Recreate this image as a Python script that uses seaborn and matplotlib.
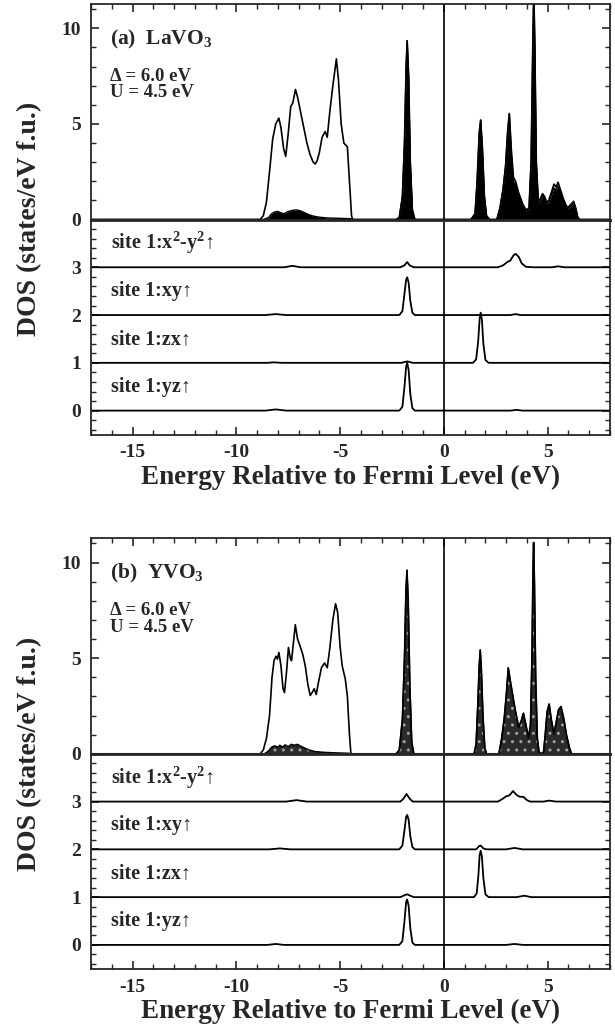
import numpy as np
import pandas as pd
import matplotlib
matplotlib.use("Agg")
import matplotlib.pyplot as plt
import seaborn as sns
from matplotlib.ticker import MultipleLocator, FixedLocator

# ---------------- data (energy eV, DOS) ----------------
LA_TOTAL = [(-17, 0), (-8.85, 0), (-8.7, 0.2), (-8.55, 0.9), (-8.4, 2.5), (-8.25, 4.2), (-8.1, 5.0),
            (-7.95, 5.3), (-7.85, 4.8), (-7.72, 3.7), (-7.62, 3.3), (-7.5, 4.5), (-7.38, 5.9),
            (-7.28, 6.1), (-7.15, 6.8), (-7.05, 6.4), (-6.9, 5.6), (-6.75, 4.8), (-6.6, 4.0),
            (-6.45, 3.4), (-6.3, 3.0), (-6.2, 2.9), (-6.1, 3.1), (-6.0, 3.5), (-5.87, 4.3),
            (-5.72, 4.6), (-5.62, 4.3), (-5.5, 5.6), (-5.35, 7.0), (-5.18, 8.4), (-5.08, 7.3),
            (-4.95, 5.0), (-4.82, 4.0), (-4.65, 3.8), (-4.55, 2.0), (-4.45, 0.2), (-4.4, 0),
            (-2.3, 0), (-2.15, 0.1), (-2.0, 1.2), (-1.9, 4.0), (-1.82, 8.0), (-1.77, 9.35),
            (-1.7, 7.5), (-1.62, 3.0), (-1.52, 0.5), (-1.4, 0),
            (1.3, 0), (1.5, 0.3), (1.6, 2.0), (1.7, 4.5), (1.77, 5.2), (1.85, 3.8), (1.95, 1.2),
            (2.05, 0.2), (2.2, 0),
            (2.55, 0), (2.7, 0.6), (2.85, 1.6), (2.97, 2.8), (3.07, 4.6), (3.15, 5.55), (3.25, 3.6),
            (3.35, 2.2), (3.45, 2.0), (3.6, 1.4), (3.8, 0.8), (3.95, 0.5), (4.1, 0.6), (4.2, 3.0),
            (4.28, 9.0), (4.33, 12.0), (4.38, 9.0), (4.45, 3.0), (4.55, 0.9), (4.65, 1.1),
            (4.75, 1.35), (4.85, 1.2), (4.95, 0.9), (5.05, 1.0), (5.2, 1.5), (5.3, 1.85),
            (5.4, 1.7), (5.5, 1.95), (5.6, 1.6), (5.75, 1.1), (5.9, 0.7), (6.0, 0.65),
            (6.12, 0.8), (6.25, 0.95), (6.35, 0.6), (6.45, 0.1), (6.55, 0), (8, 0)]

LA_PARTIAL = [(-17, 0), (-8.7, 0), (-8.45, 0.1), (-8.3, 0.3), (-8.15, 0.4), (-8.0, 0.42),
              (-7.85, 0.35), (-7.7, 0.3), (-7.55, 0.4), (-7.3, 0.48), (-7.1, 0.5), (-6.9, 0.45),
              (-6.7, 0.35), (-6.5, 0.25), (-6.3, 0.18), (-6.0, 0.12), (-5.6, 0.08), (-5.0, 0.06),
              (-4.5, 0.04), (-4.4, 0),
              (-2.3, 0), (-2.15, 0.1), (-2.0, 1.2), (-1.9, 4.0), (-1.82, 8.0), (-1.77, 9.35),
              (-1.7, 7.5), (-1.62, 3.0), (-1.52, 0.5), (-1.4, 0),
              (1.3, 0), (1.5, 0.3), (1.6, 2.0), (1.7, 4.5), (1.77, 5.2), (1.85, 3.8), (1.95, 1.2),
              (2.05, 0.2), (2.2, 0),
              (2.55, 0), (2.7, 0.6), (2.85, 1.6), (2.97, 2.8), (3.07, 4.6), (3.15, 5.5), (3.25, 3.4),
              (3.35, 2.0), (3.45, 1.8), (3.6, 1.3), (3.8, 0.75), (3.95, 0.45), (4.1, 0.55), (4.2, 3.0),
              (4.28, 9.0), (4.33, 12.0), (4.38, 9.0), (4.45, 3.0), (4.55, 0.85), (4.65, 1.0),
              (4.75, 1.25), (4.85, 1.1), (4.95, 0.85), (5.05, 0.9), (5.2, 1.35), (5.3, 1.65),
              (5.4, 1.55), (5.5, 1.75), (5.6, 1.45), (5.75, 1.0), (5.9, 0.65), (6.0, 0.6),
              (6.12, 0.7), (6.25, 0.85), (6.35, 0.55), (6.45, 0.1), (6.55, 0), (8, 0)]

LA_X2Y2 = [(-17, 0), (-7.7, 0), (-7.3, 0.03), (-6.9, 0), (-2.1, 0), (-1.9, 0.04), (-1.77, 0.11),
           (-1.65, 0.04), (-1.45, 0), (2.6, 0), (2.85, 0.04), (3.05, 0.11), (3.2, 0.14), (3.35, 0.25),
           (3.46, 0.28), (3.6, 0.22), (3.75, 0.08), (3.95, 0.01), (4.3, 0), (5.2, 0), (5.5, 0.02),
           (5.8, 0), (8, 0)]
LA_XY = [(-17, 0), (-8.6, 0), (-8.1, 0.02), (-7.6, 0), (-2.15, 0), (-2.0, 0.08), (-1.9, 0.45),
         (-1.82, 0.74), (-1.77, 0.79), (-1.7, 0.68), (-1.62, 0.3), (-1.52, 0.05), (-1.4, 0),
         (3.2, 0), (3.45, 0.02), (3.7, 0), (8, 0)]
LA_ZX = [(-17, 0), (-8.5, 0), (-8.2, 0.01), (-7.8, 0), (-2.05, 0), (-1.77, 0.03), (-1.5, 0),
         (1.4, 0), (1.55, 0.07), (1.65, 0.45), (1.72, 0.92), (1.77, 1.05), (1.83, 0.9), (1.9, 0.4),
         (2.0, 0.06), (2.15, 0), (8, 0)]
LA_YZ = [(-17, 0), (-8.6, 0), (-8.1, 0.025), (-7.6, 0), (-2.15, 0), (-2.0, 0.08), (-1.9, 0.5),
         (-1.82, 0.92), (-1.77, 1.0), (-1.7, 0.85), (-1.62, 0.35), (-1.52, 0.05), (-1.4, 0),
         (3.2, 0), (3.5, 0.015), (3.8, 0), (8, 0)]

Y_TOTAL = [(-17, 0), (-8.85, 0), (-8.7, 0.2), (-8.55, 0.8), (-8.4, 2.0), (-8.28, 4.0), (-8.18, 4.9),
           (-8.08, 5.1), (-8.02, 4.95), (-7.95, 5.3), (-7.85, 4.6), (-7.75, 3.4), (-7.68, 3.2),
           (-7.58, 4.3), (-7.49, 5.56), (-7.4, 5.0), (-7.34, 4.87), (-7.25, 5.8), (-7.16, 6.75),
           (-7.05, 6.0), (-6.95, 5.7), (-6.8, 5.2), (-6.68, 4.6), (-6.55, 3.6), (-6.44, 3.05),
           (-6.35, 3.2), (-6.25, 3.4), (-6.15, 3.1), (-6.05, 3.7), (-5.9, 4.5), (-5.75, 4.75),
           (-5.62, 4.5), (-5.5, 5.5), (-5.35, 7.0), (-5.22, 7.85), (-5.12, 7.4), (-5.0, 5.6),
           (-4.9, 4.6), (-4.75, 3.9), (-4.65, 3.0), (-4.55, 1.0), (-4.48, 0),
           (-2.3, 0), (-2.15, 0.2), (-2.0, 1.8), (-1.9, 5.0), (-1.83, 8.5), (-1.78, 9.6),
           (-1.72, 8.0), (-1.64, 3.5), (-1.55, 0.6), (-1.45, 0),
           (1.45, 0), (1.55, 0.5), (1.63, 2.5), (1.7, 4.6), (1.75, 5.43), (1.8, 4.5), (1.88, 2.0),
           (1.97, 0.3), (2.05, 0),
           (2.65, 0), (2.78, 0.8), (2.9, 1.8), (3.0, 3.0), (3.1, 4.5), (3.2, 3.8), (3.3, 3.15),
           (3.45, 2.2), (3.6, 1.4), (3.72, 1.7), (3.83, 2.12), (3.95, 1.5), (4.07, 0.85),
           (4.17, 1.5), (4.24, 5.0), (4.29, 9.5), (4.32, 11.05), (4.36, 9.0), (4.42, 4.0),
           (4.5, 0.8), (4.58, 0.1), (4.7, 0), (4.8, 0.1), (4.88, 1.0), (4.97, 2.2), (5.07, 2.6),
           (5.17, 1.8), (5.3, 1.05), (5.4, 1.6), (5.52, 2.3), (5.64, 2.47), (5.78, 1.8),
           (5.9, 1.0), (6.05, 0.3), (6.15, 0), (8, 0)]

Y_PARTIAL = [(-17, 0), (-8.65, 0), (-8.45, 0.15), (-8.3, 0.35), (-8.15, 0.42), (-8.0, 0.35),
             (-7.9, 0.45), (-7.78, 0.35), (-7.65, 0.47), (-7.5, 0.38), (-7.35, 0.5), (-7.2, 0.45),
             (-7.05, 0.5), (-6.9, 0.4), (-6.7, 0.3), (-6.5, 0.2), (-6.2, 0.12), (-5.8, 0.08),
             (-5.2, 0.05), (-4.6, 0.03), (-4.45, 0),
             (-2.3, 0), (-2.15, 0.2), (-2.0, 1.8), (-1.9, 5.0), (-1.83, 8.5), (-1.78, 9.6),
             (-1.72, 8.0), (-1.64, 3.5), (-1.55, 0.6), (-1.45, 0),
             (1.45, 0), (1.55, 0.5), (1.63, 2.5), (1.7, 4.6), (1.75, 5.43), (1.8, 4.5), (1.88, 2.0),
             (1.97, 0.3), (2.05, 0),
             (2.65, 0), (2.78, 0.8), (2.9, 1.8), (3.0, 3.0), (3.1, 4.5), (3.2, 3.8), (3.3, 3.15),
             (3.45, 2.2), (3.6, 1.4), (3.72, 1.7), (3.83, 2.12), (3.95, 1.5), (4.07, 0.85),
             (4.17, 1.5), (4.24, 5.0), (4.29, 9.5), (4.32, 11.05), (4.36, 9.0), (4.42, 4.0),
             (4.5, 0.8), (4.58, 0.1), (4.7, 0), (4.8, 0.1), (4.88, 1.0), (4.97, 2.2), (5.07, 2.6),
             (5.17, 1.8), (5.3, 1.05), (5.4, 1.6), (5.52, 2.3), (5.64, 2.47), (5.78, 1.8),
             (5.9, 1.0), (6.05, 0.3), (6.15, 0), (8, 0)]

Y_X2Y2 = [(-17, 0), (-7.6, 0), (-7.1, 0.03), (-6.6, 0), (-2.1, 0), (-1.95, 0.06), (-1.8, 0.16),
          (-1.65, 0.06), (-1.5, 0), (2.6, 0), (2.8, 0.05), (3.0, 0.11), (3.15, 0.13), (3.33, 0.22),
          (3.5, 0.14), (3.65, 0.1), (3.83, 0.1), (4.0, 0.03), (4.15, 0), (4.8, 0), (5.07, 0.02),
          (5.4, 0), (8, 0)]
Y_XY = [(-17, 0), (-8.4, 0), (-7.9, 0.02), (-7.4, 0), (-2.15, 0), (-2.0, 0.08), (-1.9, 0.4),
        (-1.82, 0.68), (-1.77, 0.72), (-1.7, 0.62), (-1.62, 0.28), (-1.52, 0.05), (-1.4, 0),
        (1.55, 0), (1.7, 0.07), (1.77, 0.08), (1.9, 0.02), (2.05, 0), (3.0, 0), (3.4, 0.03),
        (3.8, 0), (8, 0)]
Y_ZX = [(-17, 0), (-2.1, 0), (-1.9, 0.04), (-1.77, 0.06), (-1.62, 0.03), (-1.45, 0), (1.45, 0),
        (1.58, 0.08), (1.66, 0.45), (1.72, 0.88), (1.77, 0.97), (1.83, 0.85), (1.9, 0.4),
        (2.0, 0.06), (2.15, 0), (3.5, 0), (3.88, 0.03), (4.2, 0), (8, 0)]
Y_YZ = [(-17, 0), (-8.5, 0), (-8.1, 0.02), (-7.7, 0), (-2.15, 0), (-2.0, 0.08), (-1.9, 0.5),
        (-1.82, 0.9), (-1.77, 0.95), (-1.7, 0.82), (-1.62, 0.35), (-1.52, 0.05), (-1.4, 0),
        (3.0, 0), (3.4, 0.02), (3.8, 0), (8, 0)]

ORBITAL_LABELS = ["site 1:x$^\\mathregular{2}$-y$^\\mathregular{2}$\u2191", "site 1:xy\u2191",
                  "site 1:zx\u2191", "site 1:yz\u2191"]
ORBITAL_OFFSETS = [3, 2, 1, 0]
PARAM_TEXT = "\u0394 = 6.0 eV\nU = 4.5 eV"
X_TICKS = [-15, -10, -5, 0, 5]
UPPER_Y_TICKS = [0, 5, 10]
LOWER_Y_TICKS = [0, 1, 2, 3]

# ---------------- style ----------------
sns.set_style("ticks")
plt.rcParams.update({
    "font.family": ["Liberation Serif", "DejaVu Serif"],
    "font.weight": "bold",
    "mathtext.fontset": "custom",
    "mathtext.rm": "Liberation Serif:bold",
    "mathtext.it": "Liberation Serif:bold",
    "mathtext.bf": "Liberation Serif:bold",
    "hatch.linewidth": 1.0,
    "axes.linewidth": 1.3,
    "axes.unicode_minus": False,
})

W, H = 615, 1031
fig = plt.figure(figsize=(W / 100, H / 100), dpi=100)


def fx(px):
    return px / W


def fy(py):
    return 1 - py / H


def curve(ax, pts, offset=0.0, lw=1.2):
    df = pd.DataFrame(pts, columns=["E", "D"])
    df["D"] = df["D"] + offset
    sns.lineplot(data=df, x="E", y="D", ax=ax, color="black", lw=lw, sort=False,
                 estimator=None, legend=False)
    return df


def style_axis(ax, upper):
    ax.set_xlim(-17, 8)
    ax.xaxis.set_major_locator(FixedLocator(X_TICKS))
    ax.xaxis.set_minor_locator(MultipleLocator(1))
    ax.set_xlabel("")
    ax.set_ylabel("")
    for s in ax.spines.values():
        s.set_linewidth(1.3)
        s.set_visible(True)
    if upper:
        ax.set_ylim(0, 11.27)
        ax.yaxis.set_major_locator(FixedLocator(UPPER_Y_TICKS))
        ax.yaxis.set_minor_locator(MultipleLocator(1))
        ax.tick_params(axis="x", which="both", direction="in", top=True, bottom=False,
                       labelbottom=False, labeltop=False)
        ax.spines["bottom"].set_linewidth(2.0)
    else:
        ax.set_ylim(-0.5, 4.0)
        ax.yaxis.set_major_locator(FixedLocator(LOWER_Y_TICKS))
        ax.yaxis.set_minor_locator(MultipleLocator(0.2))
        ax.tick_params(axis="x", which="both", direction="in", top=False, bottom=True,
                       labelbottom=True)
        ax.spines["top"].set_linewidth(2.0)
    ax.tick_params(axis="y", which="both", direction="in", left=True, right=True,
                   labelright=False)
    ax.tick_params(which="major", length=6, width=1.2, labelsize=14, pad=7)
    ax.tick_params(which="minor", length=3.5, width=1.0)
    for lab in ax.get_xticklabels() + ax.get_yticklabels():
        lab.set_fontweight("bold")
    ax.axvline(0, color="black", lw=1.2)


def panel(top_px, total, partial, orbitals, title, hatched):
    left, right = 91, 610
    h_up = 215.5
    h_lo = 215.0
    ax_u = fig.add_axes([fx(left), fy(top_px + h_up), fx(right - left), h_up / H])
    ax_l = fig.add_axes([fx(left), fy(top_px + h_up + h_lo), fx(right - left), h_lo / H])

    pdf = pd.DataFrame(partial, columns=["E", "D"])
    if hatched:
        ax_u.fill_between(pdf["E"], pdf["D"], 0, facecolor="#2a2a2a", edgecolor="#a0a0a0",
                          hatch="..", linewidth=0)
    else:
        ax_u.fill_between(pdf["E"], pdf["D"], 0, facecolor="black", linewidth=0)
    curve(ax_u, partial, lw=1.0)
    curve(ax_u, total, lw=1.2)

    name, sub = title
    ax_u.text(-16.1, 9.42, name + "$_\\mathregular{" + sub + "}$", fontsize=15.5,
              fontweight="bold", ha="left", va="center")
    ax_u.text(-16.1, 7.05, PARAM_TEXT, fontsize=13.5, fontweight="bold",
              ha="left", va="center", linespacing=0.95)

    for pts, off, lab in zip(orbitals, ORBITAL_OFFSETS, ORBITAL_LABELS):
        curve(ax_l, pts, offset=off, lw=1.3)
        ax_l.text(-16.05, off + 0.5, lab, fontsize=14.5, fontweight="bold", ha="left",
                  va="center")

    style_axis(ax_u, True)
    style_axis(ax_l, False)

    center = top_px + (h_up + h_lo) / 2
    fig.text(fx(30), fy(center), "DOS (states/eV f.u.)", rotation=90, ha="center",
             va="center", fontsize=20, fontweight="bold")
    fig.text(fx((left + right) / 2), fy(top_px + h_up + h_lo + 43),
             "Energy Relative to Fermi Level (eV)", ha="center", va="center",
             fontsize=19.5, fontweight="bold")


panel(4, LA_TOTAL, LA_PARTIAL, [LA_X2Y2, LA_XY, LA_ZX, LA_YZ], ("(a)  LaVO", "3"), False)
panel(538.3, Y_TOTAL, Y_PARTIAL, [Y_X2Y2, Y_XY, Y_ZX, Y_YZ], ("(b)  YVO", "3"), True)

fig.savefig("out.png", dpi=100)
